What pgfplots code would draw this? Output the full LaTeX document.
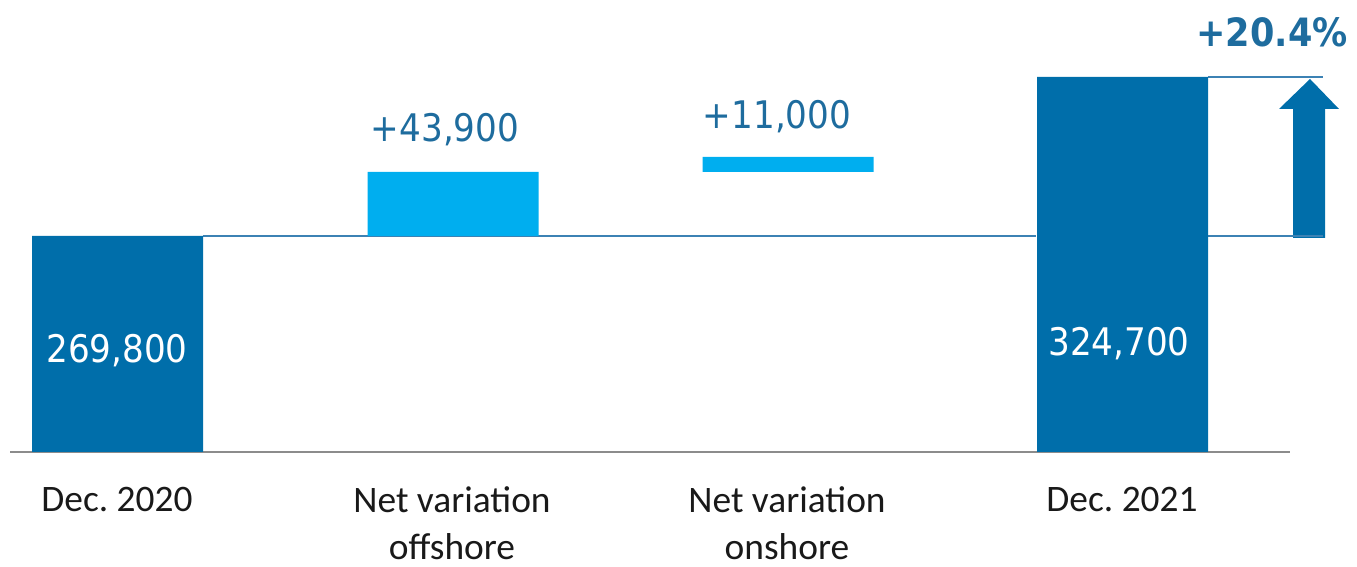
\documentclass[border=0pt]{standalone}
\usepackage{fontspec}
\setmainfont{Carlito}
\newfontfamily\numfont[FakeStretch=0.9]{DejaVu Sans}
\usepackage{pgfplots}
\pgfplotsset{compat=1.18}

\definecolor{darkbar}{RGB}{0,110,170}
\definecolor{lightbar}{RGB}{0,174,239}
\definecolor{valtxt}{RGB}{30,108,158}
\definecolor{linkline}{RGB}{60,130,180}

% bar heights as drawn (the chart is not to scale); x in pixel positions
\pgfplotstableread{
x      base  total  delta
117.5  0     216    0
453    216   0      64
788    280   0      15
1122.5 0     375    0
}\waterfall

\frenchspacing
\begin{document}
\begin{tikzpicture}
\begin{axis}[
    scale only axis,
    width=678.5pt, height=282pt,
    xmin=0, xmax=1357, ymin=-112, ymax=452,
    hide axis,
    clip=false,
    ybar stacked,
    bar width=171,
]
\path (axis cs:0,-112) rectangle (axis cs:1357,452);
\addplot[draw=none, fill=none] table[x=x, y=base] {\waterfall};
\addplot[draw=none, fill=darkbar] table[x=x, y=total] {\waterfall};
\addplot[draw=none, fill=lightbar] table[x=x, y=delta] {\waterfall};

% baseline and connector lines
\draw[gray!90, line width=1pt] (axis cs:10,0) -- (axis cs:1290,0);
\draw[linkline, line width=0.7pt] (axis cs:203,216) -- (axis cs:1036,216);
\draw[linkline, line width=0.7pt] (axis cs:1208,216) -- (axis cs:1323,216);
\draw[linkline, line width=0.7pt] (axis cs:1208,375) -- (axis cs:1323,375);

% growth arrow
\fill[darkbar] (axis cs:1293,214) -- (axis cs:1325,214) -- (axis cs:1325,343)
    -- (axis cs:1339,343) -- (axis cs:1310,373) -- (axis cs:1279,343)
    -- (axis cs:1293,343) -- cycle;

\coordinate (v1) at (axis cs:117,101);
\coordinate (v4) at (axis cs:1119,108);
\coordinate (v2) at (axis cs:445,322);
\coordinate (v3) at (axis cs:777,335);
\coordinate (pc) at (axis cs:1272,420);
\coordinate (c1) at (axis cs:117,-48);
\coordinate (c2) at (axis cs:452,-28);
\coordinate (c3) at (axis cs:787,-28);
\coordinate (c4) at (axis cs:1122,-48);
\end{axis}

% value labels (after the axis so they sit above the bars)
\node[text=white, font=\numfont\fontsize{19}{22}\selectfont] at (v1) {269,800};
\node[text=white, font=\numfont\fontsize{19}{22}\selectfont] at (v4) {324,700};
\node[text=valtxt, font=\numfont\fontsize{19}{22}\selectfont] at (v2) {+43,900};
\node[text=valtxt, font=\numfont\fontsize{19}{22}\selectfont] at (v3) {+11,000};
\node[text=valtxt, font=\numfont\bfseries\fontsize{19.5}{22}\selectfont] at (pc) {+20.4\%};

% category labels
\node[text=black!90, font=\fontsize{18.7}{23.5}\selectfont, align=center] at (c1) {Dec. 2020};
\node[text=black!90, font=\fontsize{18.7}{23.5}\selectfont, align=center, anchor=north] at (c2) {Net variation\\offshore};
\node[text=black!90, font=\fontsize{18.7}{23.5}\selectfont, align=center, anchor=north] at (c3) {Net variation\\onshore};
\node[text=black!90, font=\fontsize{18.7}{23.5}\selectfont, align=center] at (c4) {Dec. 2021};
\end{tikzpicture}
\end{document}
